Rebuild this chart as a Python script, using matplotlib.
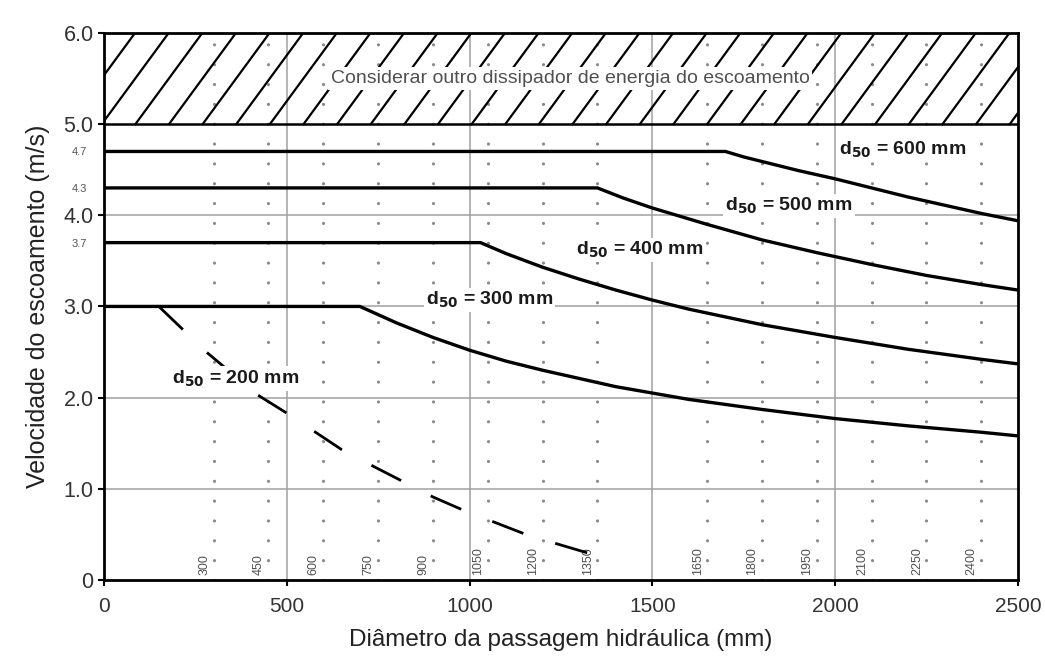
import numpy as np
import matplotlib
matplotlib.use("Agg")
import matplotlib.pyplot as plt

plt.rcParams['font.family'] = ['Liberation Sans', 'DejaVu Sans']

# ─── Data ─────────────────────────────────────────────────────────────────────
D600 = [0, 1700, 1750, 1800, 1900, 2000, 2100, 2200, 2300, 2400, 2500]
V600 = [4.7, 4.7, 4.64, 4.59, 4.49, 4.40, 4.30, 4.20, 4.11, 4.02, 3.94]

D500 = [0, 1350, 1420, 1500, 1650, 1800, 1950, 2100, 2250, 2400, 2500]
V500 = [4.3, 4.3, 4.19, 4.08, 3.90, 3.73, 3.59, 3.46, 3.34, 3.24, 3.18]

D400 = [0, 1030, 1100, 1200, 1300, 1400, 1500, 1600, 1800, 2000, 2200, 2400, 2500]
V400 = [3.7, 3.7, 3.58, 3.43, 3.30, 3.18, 3.07, 2.97, 2.80, 2.66, 2.53, 2.42, 2.37]

D300 = [0, 700, 750, 800, 900, 1000, 1100, 1200, 1400, 1600, 1800, 2000, 2200, 2400, 2500]
V300 = [3.0, 3.0, 2.91, 2.82, 2.66, 2.52, 2.40, 2.30, 2.12, 1.98, 1.87, 1.77, 1.69, 1.62, 1.58]

D200 = [150, 280, 420, 500, 650, 740, 900, 980, 1160, 1345]
V200 = [3.0, 2.5, 2.03, 1.83, 1.43, 1.24, 0.91, 0.77, 0.49, 0.27]

PIPE_SIZES = [300, 450, 600, 750, 900, 1050, 1200, 1350, 1650, 1800, 1950, 2100, 2250, 2400]
X_TICKS = [0, 500, 1000, 1500, 2000, 2500]
Y_TICKS = [0, 1, 2, 3, 4, 5, 6]
Y_TICK_LABELS = ["0", "1.0", "2.0", "3.0", "4.0", "5.0", "6.0"]
Y_SMALL = [3.7, 4.3, 4.7]

# (label, x, y) for the curve names
CURVE_LABELS = [
    ("600", 2010, 4.72),
    ("500", 1700, 4.10),
    ("400", 1290, 3.62),
    ("300", 880, 3.07),
    ("200", 185, 2.21),
]
ZONE_TEXT = "Considerar outro dissipador de energia do escoamento"

# ─── Figure ───────────────────────────────────────────────────────────────────
fig = plt.figure(figsize=(10.45, 6.59), dpi=100)
ax = fig.add_axes([0.0995, 0.120, 0.8745, 0.830])
ax.set_xlim(0, 2500)
ax.set_ylim(0, 6)

grid_c = "#a0a0a0"
# solid grid
for x in X_TICKS[1:-1]:
    ax.axvline(x, color=grid_c, lw=1.1, zorder=1)
for y in [1, 2, 3, 4]:
    ax.axhline(y, color=grid_c, lw=1.1, zorder=1)

# dotted pipe-size lines and their labels
for d in PIPE_SIZES:
    ax.plot([d, d], [0, 6], color="#8a8a8a", lw=2.3, dashes=(0.01, 6.2),
            dash_capstyle="round", zorder=1)
    ax.text(d - 26, 0.05, str(d), rotation=90, ha="center", va="bottom",
            fontsize=9, color="#505050", zorder=2)

# hatched zone 5-6
ax.axhline(5, color="black", lw=1.8, zorder=3)
for x0 in np.arange(-190, 2500, 92):
    ax.plot([x0, x0 + 183], [5, 6], color="black", lw=1.6, zorder=2)
ax.text(1275, 5.5, ZONE_TEXT, ha="center", va="center", fontsize=14, color="#505050",
        zorder=4, bbox=dict(boxstyle="square,pad=0.15", fc="white", ec="none"))

# curves
for D, V in [(D600, V600), (D500, V500), (D400, V400), (D300, V300)]:
    ax.plot(D, V, color="black", lw=2.4, solid_capstyle="butt",
            solid_joinstyle="round", zorder=5)
ax.plot(D200, V200, color="black", lw=2.0, dashes=(12, 12), zorder=5)

for lab, x, y in CURVE_LABELS:
    ax.text(x, y, r"d$_{\mathbf{50}}$ = " + lab + " mm", ha="left", va="center",
            fontsize=14, fontweight="bold", color="#1a1a1a", zorder=6,
            bbox=dict(boxstyle="square,pad=0.1", fc="white", ec="none"))

# axes styling
for s in ax.spines.values():
    s.set_linewidth(2.0)
    s.set_zorder(7)
ax.set_xticks(X_TICKS)
ax.set_xticklabels([str(v) for v in X_TICKS], fontsize=15, color="#333333")
ax.set_yticks(Y_TICKS)
ax.set_yticklabels(Y_TICK_LABELS, fontsize=15.5, color="#333333")
ax.set_yticks(Y_SMALL, minor=True)
ax.set_yticklabels([f"{v:.1f}" for v in Y_SMALL], minor=True, fontsize=8, color="#555555")
ax.tick_params(axis="both", which="major", length=4, width=1.5, direction="out")
ax.tick_params(axis="y", which="minor", length=0, pad=12)
ax.tick_params(axis="x", pad=8)

ax.set_xlabel("Diâmetro da passagem hidráulica (mm)", fontsize=17.5, color="#222222", labelpad=10)
ax.set_ylabel("Velocidade do escoamento (m/s)", fontsize=18, color="#222222", labelpad=10)

fig.savefig("out.png", dpi=100, facecolor="white")
